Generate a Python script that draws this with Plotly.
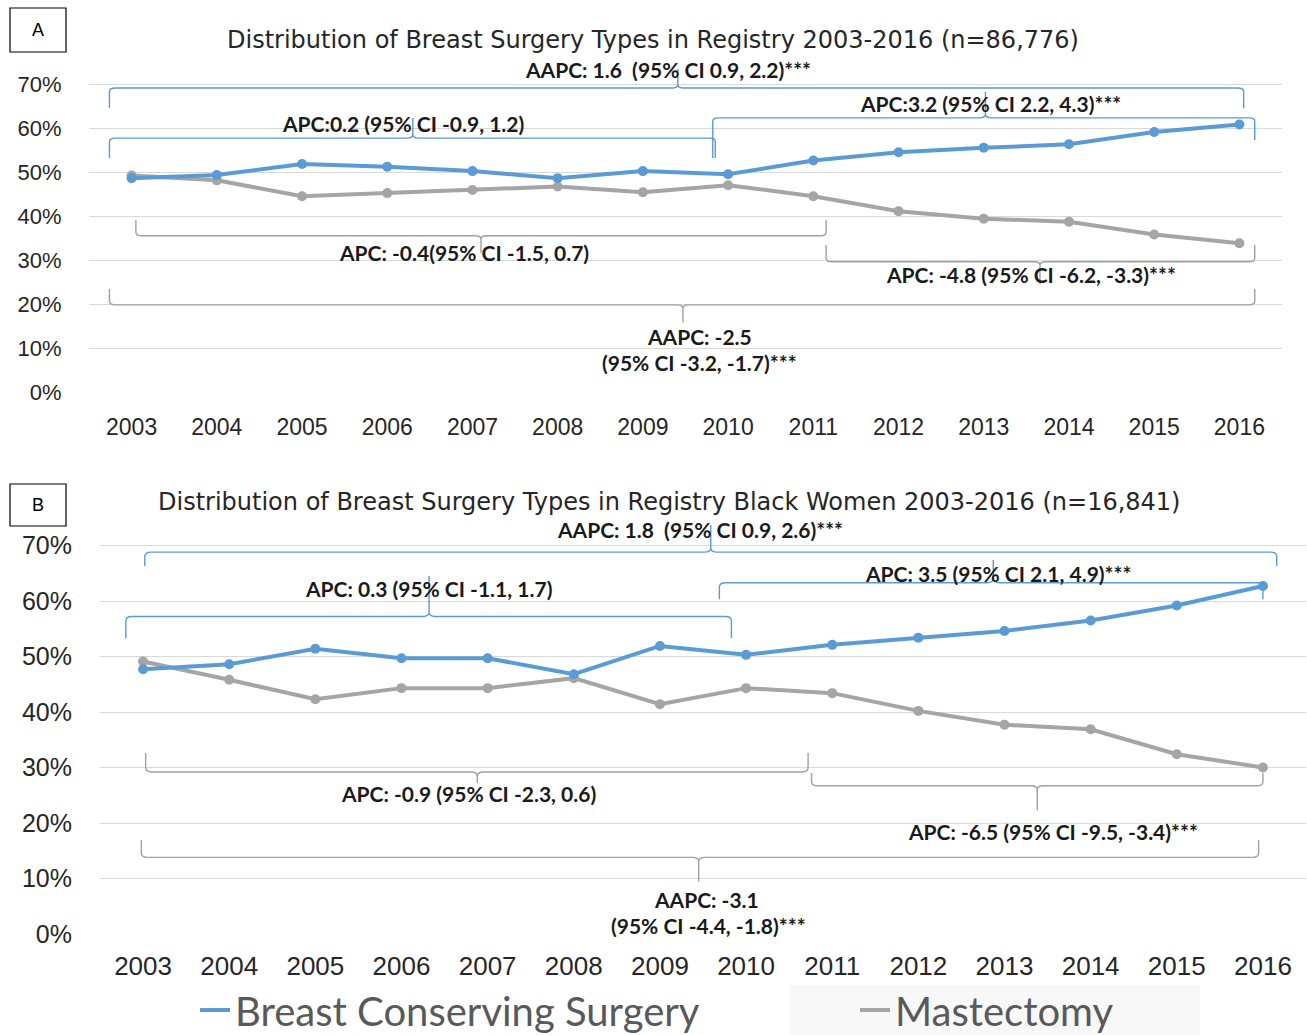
import plotly.graph_objects as go

# ---------------- data ----------------
years = list(range(2003, 2017))
bcs_all = [48.6, 49.3, 51.8, 51.2, 50.2, 48.6, 50.2, 49.5, 52.6, 54.5, 55.5, 56.3, 59.1, 60.8]
mast_all = [49.2, 48.1, 44.5, 45.2, 45.9, 46.7, 45.4, 47.0, 44.5, 41.1, 39.4, 38.7, 35.8, 33.8]
bcs_black = [47.7, 48.6, 51.4, 49.7, 49.7, 46.8, 51.9, 50.3, 52.1, 53.4, 54.6, 56.5, 59.2, 62.7]
mast_black = [49.1, 45.8, 42.3, 44.3, 44.3, 46.1, 41.4, 44.3, 43.4, 40.2, 37.7, 36.9, 32.4, 30.0]
y_ticks = [0, 10, 20, 30, 40, 50, 60, 70]
series_names = ["Breast Conserving Surgery", "Mastectomy"]
title_a = "Distribution of Breast Surgery Types in Registry 2003-2016 (n=86,776)"
title_b = "Distribution of Breast Surgery Types in Registry Black Women 2003-2016 (n=16,841)"

BLUE = "#5B9BD5"
GRAY = "#A5A5A5"
BRACE_GRAY = "#A0A0A0"

# brace specs: (panel, x0, x1, xm, ybar, y_end_left, y_end_right, y_tip, color)
braces = [
    ("a", 2002.74, 2016.05, 2009.41, 69.1, 64.5, 64.5, 73.4, BLUE),
    ("a", 2002.74, 2009.85, 2006.30, 57.7, 53.2, 53.2, 62.3, BLUE),
    ("a", 2009.82, 2016.18, 2013.02, 62.3, 53.2, 57.3, 68.2, BLUE),
    ("a", 2003.05, 2011.15, 2007.10, 35.5, 39.1, 39.1, 31.6, BRACE_GRAY),
    ("a", 2011.15, 2016.18, 2013.66, 29.6, 33.4, 33.4, 24.5, BRACE_GRAY),
    ("a", 2002.74, 2016.18, 2009.47, 19.8, 23.4, 23.4, 15.8, BRACE_GRAY),
    ("b", 2003.02, 2016.16, 2009.59, 68.8, 66.3, 66.3, 73.7, BLUE),
    ("b", 2002.80, 2009.83, 2006.32, 57.2, 53.3, 53.3, 64.5, BLUE),
    ("b", 2009.69, 2016.00, 2012.87, 63.3, 60.3, 60.3, 67.4, BLUE),
    ("b", 2003.03, 2010.72, 2006.88, 29.2, 32.6, 32.6, 27.2, BRACE_GRAY),
    ("b", 2010.76, 2016.00, 2013.38, 26.7, 29.0, 29.0, 22.3, BRACE_GRAY),
    ("b", 2002.98, 2015.95, 2009.45, 13.8, 16.9, 16.9, 9.4, BRACE_GRAY),
]

# label specs: (panel, x, y, text)
labels = [
    ("a", 2009.30, 73.2, "AAPC: 1.6  (95% CI 0.9, 2.2)***"),
    ("a", 2006.18, 61.1, "APC:0.2 (95% CI -0.9, 1.2)"),
    ("a", 2013.08, 65.5, "APC:3.2 (95% CI 2.2, 4.3)***"),
    ("a", 2006.90, 31.8, "APC: -0.4(95% CI -1.5, 0.7)"),
    ("a", 2013.55, 26.8, "APC: -4.8 (95% CI -6.2, -3.3)***"),
    ("a", 2009.66, 12.7, "AAPC: -2.5"),
    ("a", 2009.66, 6.6, "(95% CI -3.2, -1.7)***"),
    ("b", 2009.47, 72.8, "AAPC: 1.8  (95% CI 0.9, 2.6)***"),
    ("b", 2006.31, 62.2, "APC: 0.3 (95% CI -1.1, 1.7)"),
    ("b", 2012.92, 65.0, "APC: 3.5 (95% CI 2.1, 4.9)***"),
    ("b", 2006.78, 25.4, "APC: -0.9 (95% CI -2.3, 0.6)"),
    ("b", 2013.56, 18.4, "APC: -6.5 (95% CI -9.5, -3.4)***"),
    ("b", 2009.54, 6.3, "AAPC: -3.1"),
    ("b", 2009.56, 1.5, "(95% CI -4.4, -1.8)***"),
]

refs = {"a": ("x", "y"), "b": ("x2", "y2")}


def brace_path(x0, x1, xm, ybar, yl, yr, ytip, r=0.07, hv=0.8):
    s = 1 if yl > ybar else -1
    t = 1 if ytip > ybar else -1
    p = f"M {x0},{yl} L {x0},{ybar + s * hv} Q {x0},{ybar} {x0 + r},{ybar} "
    p += f"L {xm - r},{ybar} Q {xm},{ybar} {xm},{ybar + t * hv} L {xm},{ytip} "
    p += f"M {xm},{ybar + t * hv} Q {xm},{ybar} {xm + r},{ybar} "
    p += f"L {x1 - r},{ybar} Q {x1},{ybar} {x1},{ybar + s * hv} L {x1},{yr}"
    return p


fig = go.Figure()

for panel, bcs, mast in (("a", bcs_all, mast_all), ("b", bcs_black, mast_black)):
    xr, yr = refs[panel]
    show = panel == "b"
    for vals, name, col, leg in ((mast, series_names[1], GRAY, "legend2"),
                                 (bcs, series_names[0], BLUE, "legend")):
        fig.add_trace(go.Scatter(x=years, y=vals, mode="lines", name=name,
                                 line=dict(color=col, width=4), xaxis=xr, yaxis=yr,
                                 showlegend=show, legend=leg))
        fig.add_trace(go.Scatter(x=years, y=vals, mode="markers", name=name,
                                 marker=dict(size=10, color=col), xaxis=xr, yaxis=yr,
                                 showlegend=False))

shapes = []
for panel, x0, x1, xm, ybar, yl, yrr, ytip, col in braces:
    xr, yr = refs[panel]
    shapes.append(dict(type="path", path=brace_path(x0, x1, xm, ybar, yl, yrr, ytip),
                       xref=xr, yref=yr, line=dict(color=col, width=1.4), layer="above"))

# panel letter boxes and faint legend background
W, H = 1307, 1035
shapes.append(dict(type="rect", xref="paper", yref="paper", x0=10 / W, x1=66 / W,
                   y0=1 - 52 / H, y1=1 - 8 / H, line=dict(color="black", width=1.2)))
shapes.append(dict(type="rect", xref="paper", yref="paper", x0=10 / W, x1=66 / W,
                   y0=1 - 526 / H, y1=1 - 484 / H, line=dict(color="black", width=1.2)))
shapes.append(dict(type="rect", xref="paper", yref="paper", x0=790 / W, x1=1200 / W,
                   y0=0, y1=1 - 985 / H, line=dict(width=0), fillcolor="#F8F8F8", layer="below"))

annotations = []
for panel, x, y, txt in labels:
    xr, yr = refs[panel]
    annotations.append(dict(x=x, y=y, xref=xr, yref=yr, text=f"<b>{txt}</b>", showarrow=False,
                            font=dict(family="Lato", size=21, color="#1A1A1A"),
                            xanchor="center", yanchor="middle"))
annotations.append(dict(x=653 / W, y=1 - 40 / H, xref="paper", yref="paper", text=title_a,
                        showarrow=False, font=dict(family="DejaVu Sans", size=24, color="#262626"),
                        xanchor="center", yanchor="middle"))
annotations.append(dict(x=669 / W, y=1 - 502 / H, xref="paper", yref="paper", text=title_b,
                        showarrow=False, font=dict(family="DejaVu Sans", size=24, color="#262626"),
                        xanchor="center", yanchor="middle"))
annotations.append(dict(x=38 / W, y=1 - 30 / H, xref="paper", yref="paper", text="A",
                        xanchor="center", yanchor="middle",
                        showarrow=False, font=dict(family="Liberation Sans", size=18, color="black")))
annotations.append(dict(x=38 / W, y=1 - 505 / H, xref="paper", yref="paper", text="B",
                        xanchor="center", yanchor="middle",
                        showarrow=False, font=dict(family="Liberation Sans", size=18, color="black")))

pct_text = [f"{v}%" for v in y_ticks]
tick_font_a = dict(family="Liberation Sans", size=22, color="#262626")
tick_font_b = dict(family="Liberation Sans", size=25, color="#262626")
xa_common = dict(tickvals=years, ticktext=[str(y) for y in years], range=[2002.5, 2016.5],
                 showgrid=False, zeroline=False, showline=False, ticks="outside",
                 tickcolor="rgba(0,0,0,0)", fixedrange=True)
ya_common = dict(tickvals=y_ticks, ticktext=pct_text, showgrid=True, gridcolor="#D9D9D9",
                 gridwidth=1.2, zeroline=False, showline=False, ticks="outside",
                 tickcolor="rgba(0,0,0,0)", fixedrange=True)

legend_common = dict(orientation="h", xanchor="left", yanchor="middle",
                     font=dict(family="Lato", size=40, color="#595959"), bgcolor="rgba(0,0,0,0)")

fig.update_layout(
    width=W, height=H, margin=dict(l=0, r=0, t=0, b=0, autoexpand=False),
    paper_bgcolor="white", plot_bgcolor="white",
    xaxis=dict(domain=[89 / W, 1282 / W], anchor="y", tickfont=dict(tick_font_a, size=23),
               ticklen=14, **xa_common),
    yaxis=dict(domain=[1 - 392 / H, 1 - 48.8 / H], anchor="x", range=[0, 78],
               tickfont=tick_font_a, ticklen=22, **ya_common),
    xaxis2=dict(domain=[100 / W, 1306 / W], anchor="y2", tickfont=dict(tick_font_b, size=26),
                ticklen=9, **xa_common),
    yaxis2=dict(domain=[1 - 934 / H, 1 - 506.65 / H], anchor="x2", range=[0, 77],
                tickfont=tick_font_b, ticklen=22, **ya_common),
    shapes=shapes,
    annotations=annotations,
    showlegend=True,
    legend=dict(x=195 / W, y=1 - 1010 / H, **legend_common),
    legend2=dict(x=855 / W, y=1 - 1010 / H, **legend_common),
)

fig.write_html("out.html", post_script="document.body.style.margin='0';",
               config={"displayModeBar": False})
